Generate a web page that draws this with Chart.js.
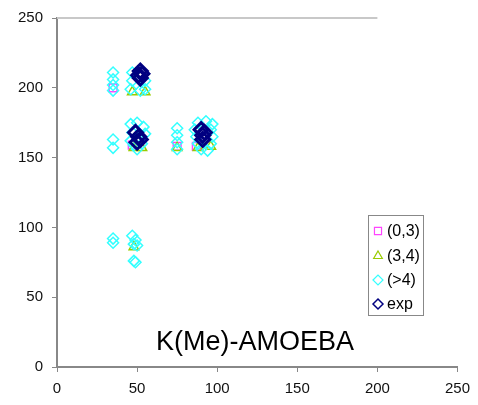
<!DOCTYPE html>
<html>
<head>
<meta charset="utf-8">
<script src="https://cdn.jsdelivr.net/npm/chart.js@4.4.1/dist/chart.umd.min.js"></script>
<style>
  body { margin: 0; background: #fff; }
  canvas { display: block; }
</style>
</head>
<body>
<canvas id="chart" width="478" height="405"></canvas>
<script>
// axis ticks
const xTicks = [0, 50, 100, 150, 200, 250];
const yTicks = [0, 50, 100, 150, 200, 250];

// series (x, y)
const set03 = [
  { x: 35, y: 200 }, { x: 47, y: 159 }, { x: 75, y: 158 }, { x: 87, y: 158 }
];
const set34 = [
  { x: 47, y: 197 }, { x: 55, y: 197 }, { x: 48, y: 157 }, { x: 53, y: 157 },
  { x: 75, y: 157 }, { x: 88, y: 157 }, { x: 96, y: 158 }, { x: 48, y: 86 }
];
const setGt4 = [
  // top group
  { x: 35, y: 211 }, { x: 35, y: 206 }, { x: 35, y: 202 }, { x: 35, y: 198 },
  { x: 47, y: 211 }, { x: 47, y: 205 }, { x: 46, y: 199 }, { x: 52, y: 198 },
  { x: 55, y: 199 }, { x: 55, y: 205 },
  // middle groups
  { x: 35, y: 163 }, { x: 35, y: 157 },
  { x: 46, y: 174 }, { x: 50, y: 175 }, { x: 54, y: 172 }, { x: 47, y: 168 },
  { x: 55, y: 167 }, { x: 46, y: 162 }, { x: 48, y: 159 }, { x: 53, y: 160 },
  { x: 50, y: 156 },
  { x: 75, y: 171 }, { x: 75, y: 166 }, { x: 75, y: 161 }, { x: 75, y: 156 },
  { x: 88, y: 175 }, { x: 93, y: 176 }, { x: 97, y: 174 }, { x: 86, y: 170 },
  { x: 96, y: 170 }, { x: 87, y: 165 }, { x: 97, y: 165 }, { x: 88, y: 160 },
  { x: 96, y: 160 }, { x: 90, y: 156 }, { x: 94, y: 155 },
  // low group
  { x: 35, y: 92 }, { x: 35, y: 89 },
  { x: 47, y: 94 }, { x: 49, y: 91 }, { x: 48, y: 88 }, { x: 50, y: 87 },
  { x: 48, y: 76 }, { x: 49, y: 75 }
];
const setExp = [
  { x: 52, y: 212 }, { x: 53, y: 210 }, { x: 52, y: 207 }, { x: 51, y: 209 },
  { x: 49, y: 168 }, { x: 51, y: 165 }, { x: 50, y: 161 }, { x: 52, y: 163 },
  { x: 90, y: 170 }, { x: 91, y: 166 }, { x: 92, y: 168 }, { x: 91, y: 163 }
];

const seriesNames = ["(0,3)", "(3,4)", "(>4)", "exp"];
const seriesColors = ["#ff44ff", "#99cc00", "#33ffff", "#000080"];
const seriesStyles = ["rect", "triangle", "rectRot", "rectRot"];

const FONT = "'Liberation Sans', Arial, sans-serif";

// top border line (only up to x = 200) and text inside the plot
const extras = {
  id: "extras",
  afterDraw(chart) {
    const ctx = chart.ctx;
    const xs = chart.scales.x, ys = chart.scales.y;
    ctx.save();
    ctx.strokeStyle = "#c8c8c8";
    ctx.lineWidth = 2;
    ctx.beginPath();
    ctx.moveTo(xs.getPixelForValue(0), ys.getPixelForValue(250));
    ctx.lineTo(xs.getPixelForValue(200), ys.getPixelForValue(250));
    ctx.stroke();

    ctx.fillStyle = "#000";
    ctx.font = "27px " + FONT;
    ctx.textAlign = "center";
    ctx.textBaseline = "alphabetic";
    ctx.fillText("K(Me)-AMOEBA", 255, 350);

    // legend box
    ctx.strokeStyle = "#888";
    ctx.lineWidth = 1;
    ctx.strokeRect(368.5, 215.5, 55, 100);
    ctx.font = "16px " + FONT;
    ctx.textAlign = "left";
    ctx.textBaseline = "middle";
    const rows = [231, 256, 280, 304];
    seriesNames.forEach((name, i) => {
      ctx.strokeStyle = seriesColors[i];
      ctx.fillStyle = "rgba(0,0,0,0)";
      ctx.lineWidth = i === 3 ? 1.5 : 1.2;
      Chart.helpers.drawPoint(ctx, { pointStyle: seriesStyles[i], radius: 5, borderWidth: ctx.lineWidth }, 378, rows[i]);
      ctx.fillStyle = "#000";
      ctx.fillText(name, 387, rows[i] + 1);
    });
    ctx.restore();
  }
};

const datasets = [set03, set34, setGt4, setExp].map((data, i) => ({
  label: seriesNames[i],
  data: data,
  showLine: false,
  pointStyle: seriesStyles[i],
  pointRadius: i === 3 ? 7 : 5.5,
  pointBorderWidth: i === 3 ? 3 : 1.5,
  pointBorderColor: seriesColors[i],
  pointBackgroundColor: "rgba(0,0,0,0)",
  order: 3 - i
}));

new Chart(document.getElementById("chart"), {
  type: "scatter",
  data: { datasets: datasets },
  options: {
    responsive: false,
    animation: false,
    layout: { padding: { left: 0, right: 20, top: 17, bottom: 0 } },
    plugins: { legend: { display: false }, tooltip: { enabled: false } },
    scales: {
      x: {
        type: "linear",
        min: 0, max: 250,
        afterBuildTicks: (s) => { s.ticks = xTicks.map(v => ({ value: v })); },
        afterFit: (s) => { s.height = 38; },
        border: { color: "#888", width: 2 },
        grid: { drawOnChartArea: false, tickLength: 5, color: "#888", lineWidth: 1 },
        ticks: { padding: 8, color: "#111", font: { family: FONT, size: 15 } }
      },
      y: {
        type: "linear",
        min: 0, max: 250,
        afterBuildTicks: (s) => { s.ticks = yTicks.map(v => ({ value: v })); },
        afterFit: (s) => { s.width = 57; },
        border: { color: "#888", width: 2 },
        grid: { drawOnChartArea: false, tickLength: 5, color: "#888", lineWidth: 1 },
        ticks: { padding: 9, color: "#111", font: { family: FONT, size: 15 } }
      }
    }
  },
  plugins: [extras]
});
</script>
</body>
</html>
